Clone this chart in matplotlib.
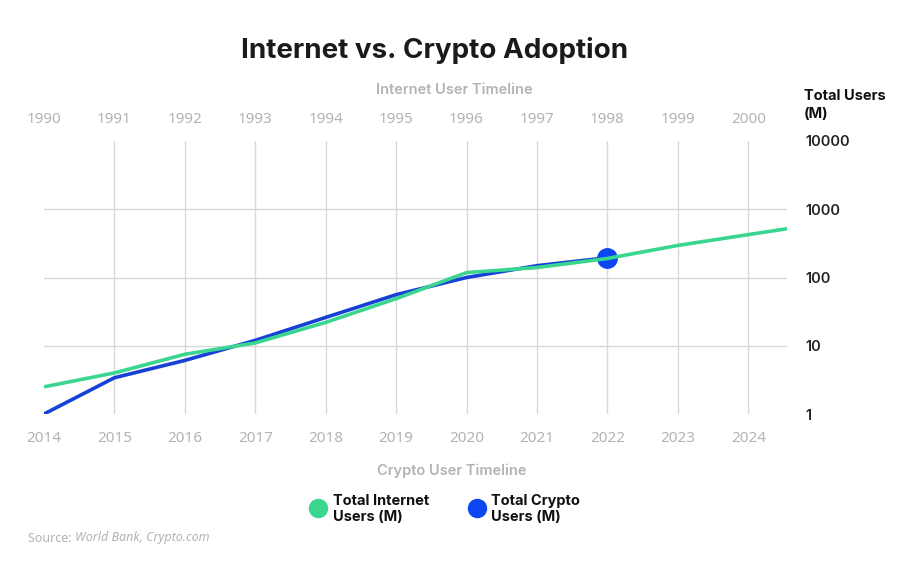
import matplotlib
matplotlib.use("Agg")
import matplotlib.pyplot as plt
from matplotlib.lines import Line2D

# ---- data ----
internet_years = [1990, 1991, 1992, 1993, 1994, 1995, 1996, 1997, 1998, 1999, 2000, 2001]
internet_users = [2.5, 4.0, 7.5, 11, 22, 49, 118, 140, 190, 295, 425, 610]
crypto_years = [2014, 2015, 2016, 2017, 2018, 2019, 2020, 2021, 2022]
crypto_users = [1.0, 3.4, 6.1, 12, 26, 56, 100, 149, 195]
top_labels = [str(y) for y in range(1990, 2001)]
bottom_labels = [str(y) for y in range(2014, 2025)]
y_ticks = [1, 10, 100, 1000, 10000]
y_labels = ["1", "10", "100", "1000", "10000"]

GREEN = "#3ad68f"
BLUE = "#1640d6"
DOT = "#0a47f2"
GREY = "#b3b3b3"
GRID = "#d8d8d8"
FONT = ["Noto Sans", "DejaVu Sans"]
BFONT = ["Inter", "DejaVu Sans"]

W, H = 916, 570
fig = plt.figure(figsize=(W / 100, H / 100), dpi=100)
fig.patch.set_facecolor("white")

def fx(px):
    return px / W

def fy(py):
    return 1 - py / H

ax = fig.add_axes([fx(44), fy(414), fx(787) - fx(44), fy(141) - fy(414)])
ax.set_yscale("log")
ax.set_xlim(0, 10.55)
ax.set_ylim(1, 10000)
for s in ax.spines.values():
    s.set_visible(False)

# grid
for i in range(1, len(bottom_labels)):
    ax.axvline(i, color=GRID, lw=1.0, zorder=0)
for v in y_ticks[1:-1]:
    ax.axhline(v, color=GRID, lw=1.0, zorder=0)

xi = [y - internet_years[0] for y in internet_years]
xc = [y - crypto_years[0] for y in crypto_years]
ax.plot(xc, crypto_users, color=BLUE, lw=2.6, zorder=2, solid_capstyle="butt")
ax.plot([xc[-1]], [crypto_users[-1]], "o", color=DOT, ms=14, zorder=3)
ax.plot(xi, internet_users, color=GREEN, lw=2.6, zorder=4, solid_capstyle="butt")

# bottom ticks (crypto timeline)
ax.set_xticks(range(len(bottom_labels)))
ax.set_xticklabels(bottom_labels, color=GREY, fontsize=11, family=FONT)
ax.tick_params(axis="x", length=0, pad=12)

# top ticks (internet timeline)
sec = ax.secondary_xaxis("top")
sec.set_xticks(range(len(top_labels)))
sec.set_xticklabels(top_labels, color=GREY, fontsize=11, family=FONT)
sec.tick_params(axis="x", length=0, pad=10)
for s in sec.spines.values():
    s.set_visible(False)

# right y ticks
ax.yaxis.tick_right()
ax.set_yticks(y_ticks)
ax.set_yticklabels(y_labels, fontsize=10.5, fontweight="semibold", color="#222222", family=BFONT)
ax.yaxis.set_minor_locator(matplotlib.ticker.NullLocator())
ax.tick_params(axis="y", length=0, pad=13)

# texts
fig.text(fx(435), fy(50), "Internet vs. Crypto Adoption", ha="center", va="center",
         fontsize=20, fontweight="bold", color="#1a1a1a", family=BFONT)
fig.text(fx(454), fy(90), "Internet User Timeline", ha="center", va="center",
         fontsize=10.5, fontweight="semibold", color=GREY, family=BFONT)
fig.text(fx(452), fy(471), "Crypto User Timeline", ha="center", va="center",
         fontsize=10.5, fontweight="semibold", color=GREY, family=BFONT)
fig.text(fx(804), fy(105), "Total Users\n(M)", ha="left", va="center",
         fontsize=10.5, fontweight="bold", color="#111111", family=BFONT, linespacing=1.4)

# legend
fig.add_artist(Line2D([fx(318)], [fy(508)], marker="o", ms=13, color=GREEN,
                      transform=fig.transFigure, lw=0))
fig.text(fx(333), fy(509), "Total Internet\nUsers (M)", ha="left", va="center",
         fontsize=10.5, fontweight="bold", color="#111111", family=BFONT, linespacing=1.25)
fig.add_artist(Line2D([fx(477)], [fy(508)], marker="o", ms=13, color=DOT,
                      transform=fig.transFigure, lw=0))
fig.text(fx(491), fy(509), "Total Crypto\nUsers (M)", ha="left", va="center",
         fontsize=10.5, fontweight="bold", color="#111111", family=BFONT, linespacing=1.25)

# source
t1 = fig.text(fx(28), fy(538), "Source: ", ha="left", va="center",
              fontsize=9, color=GREY, family=FONT)
fig.canvas.draw()
bb = t1.get_window_extent()
fig.text(bb.x1 / W, fy(538), "World Bank, Crypto.com", ha="left", va="center",
         fontsize=9, color=GREY, family=FONT, style="italic")

fig.savefig("out.png", dpi=100, facecolor="white")
